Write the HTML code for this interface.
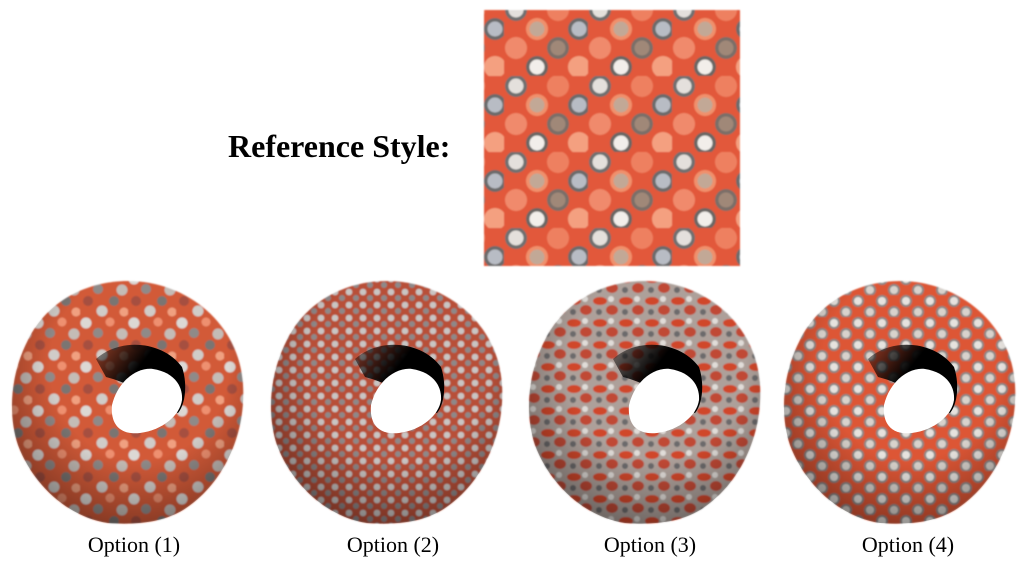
<!DOCTYPE html>
<html><head><meta charset="utf-8">
<style>
html,body{margin:0;padding:0;background:#fff;}
body{width:1030px;height:572px;overflow:hidden;position:relative;font-family:"Liberation Serif",serif;}
.title{position:absolute;left:228px;top:128px;font-size:32px;font-weight:bold;color:#000;}
.cap{position:absolute;top:532px;font-size:22px;color:#000;width:200px;text-align:center;}
svg{position:absolute;left:0;top:0;}
</style></head>
<body>
<div class="title">Reference Style:</div>
<svg width="1030" height="572">
<defs>
  <filter id="soft"><feGaussianBlur stdDeviation="0.9"/></filter>
  <pattern id="ref" width="84" height="76" patternUnits="userSpaceOnUse">
    <rect width="84" height="76" fill="#e2583a"/>
    <circle cx="12" cy="10" r="11" fill="#6f6f6f"/><circle cx="12" cy="10" r="7.5" fill="#e4e0dc"/>
    <circle cx="33" cy="29" r="11" fill="#f0906c"/><circle cx="33" cy="29" r="7.5" fill="#c2a896"/>
    <circle cx="54" cy="10" r="11" fill="#ee8060"/>
    <circle cx="75" cy="29" r="11" fill="#6c6a6a"/><circle cx="75" cy="29" r="7.5" fill="#b8bcc4"/>
    <circle cx="12" cy="48" r="11" fill="#f08a6c"/>
    <circle cx="33" cy="67" r="11" fill="#6a6664"/><circle cx="33" cy="67" r="7.5" fill="#f2eeea"/>
    <circle cx="54" cy="48" r="11" fill="#7a6e68"/><circle cx="54" cy="48" r="7.5" fill="#a08878"/>
    <circle cx="75" cy="67" r="11" fill="#f4a080"/>
  </pattern>
  <pattern id="p1" width="48" height="44" patternUnits="userSpaceOnUse">
    <rect width="48" height="44" fill="#d25a38"/>
    <circle cx="6" cy="6" r="5.5" fill="#dcd8d4"/>
    <circle cx="18" cy="16" r="5" fill="#8f8a88"/>
    <circle cx="30" cy="5" r="4.5" fill="#ee9070"/>
    <circle cx="42" cy="17" r="5.5" fill="#c4bcb6"/>
    <circle cx="8" cy="28" r="5" fill="#a65040"/>
    <circle cx="22" cy="38" r="5.5" fill="#d0ccc8"/>
    <circle cx="34" cy="28" r="5" fill="#7a7472"/>
    <circle cx="44" cy="39" r="4.5" fill="#f0a080"/>
  </pattern>
  <pattern id="p2" width="14" height="13" patternUnits="userSpaceOnUse">
    <rect width="14" height="13" fill="#b85038"/>
    <circle cx="4" cy="4" r="3.3" fill="#c9c5c3"/>
    <circle cx="11" cy="10" r="3" fill="#8e8888"/>
  </pattern>
  <pattern id="p3" width="26" height="22" patternUnits="userSpaceOnUse">
    <rect width="26" height="22" fill="#ada09a"/>
    <ellipse cx="7" cy="6" rx="7" ry="4" fill="#d0462c"/>
    <ellipse cx="19" cy="15" rx="6" ry="5" fill="#c04a36"/>
    <circle cx="18" cy="4" r="3" fill="#e0dcd8"/>
    <circle cx="6" cy="17" r="3" fill="#6c6a6c"/>
  </pattern>
  <pattern id="p4" width="24" height="22" patternUnits="userSpaceOnUse">
    <rect width="24" height="22" fill="#dd5634"/>
    <circle cx="6" cy="6" r="6" fill="#8a8684"/><circle cx="6" cy="6" r="4" fill="#e6e2de"/>
    <circle cx="18" cy="17" r="6" fill="#8a8684"/><circle cx="18" cy="17" r="4" fill="#d8d2cc"/>
  </pattern>
  <radialGradient id="shade" cx="0.55" cy="0.35" r="0.7">
    <stop offset="0.55" stop-color="#000" stop-opacity="0"/>
    <stop offset="1" stop-color="#000" stop-opacity="0.4"/>
  </radialGradient>
  <linearGradient id="hs" x1="0" y1="0" x2="1" y2="0.6">
    <stop offset="0" stop-color="#000" stop-opacity="0.3"/>
    <stop offset="0.5" stop-color="#000" stop-opacity="1"/>
  </linearGradient>
  <path id="outer" d="M0,-124 C60,-124 112,-80 115,-20 C118,30 95,80 55,105 C35,117 10,120 -20,118 C-60,112 -95,80 -110,40 C-120,10 -118,-30 -100,-65 C-80,-105 -40,-124 0,-124 Z"/>
  <path id="shadow" d="M-32,-46 C-8,-68 35,-64 54,-38 C60,-20 57,0 50,8 C30,0 10,-20 -22,-28 Z"/>
  <path id="hole" d="M-16,0 C-10,-25 10,-38 25,-36 C45,-33 55,-20 54,-5 C52,10 35,25 12,28 C-5,30 -18,22 -16,0 Z"/>
</defs>
<rect x="484" y="10" width="256" height="256" fill="url(#ref)" filter="url(#soft)"/>

<g transform="translate(128,405)">
  <use href="#outer" fill="url(#p1)" filter="url(#soft)"/>
  <use href="#outer" fill="url(#shade)"/>
  <use href="#shadow" fill="url(#hs)"/>
  <use href="#hole" fill="#fff"/>
</g>
<g transform="translate(387,405)">
  <use href="#outer" fill="url(#p2)" filter="url(#soft)"/>
  <use href="#outer" fill="url(#shade)"/>
  <use href="#shadow" fill="url(#hs)"/>
  <use href="#hole" fill="#fff"/>
</g>
<g transform="translate(645,405)">
  <use href="#outer" fill="url(#p3)" filter="url(#soft)"/>
  <use href="#outer" fill="url(#shade)"/>
  <use href="#shadow" fill="url(#hs)"/>
  <use href="#hole" fill="#fff"/>
</g>
<g transform="translate(900,405)">
  <use href="#outer" fill="url(#p4)" filter="url(#soft)"/>
  <use href="#outer" fill="url(#shade)"/>
  <use href="#shadow" fill="url(#hs)"/>
  <use href="#hole" fill="#fff"/>
</g>
</svg>
<div class="cap" style="left:34px">Option (1)</div>
<div class="cap" style="left:293px">Option (2)</div>
<div class="cap" style="left:550px">Option (3)</div>
<div class="cap" style="left:808px">Option (4)</div>
</body></html>
